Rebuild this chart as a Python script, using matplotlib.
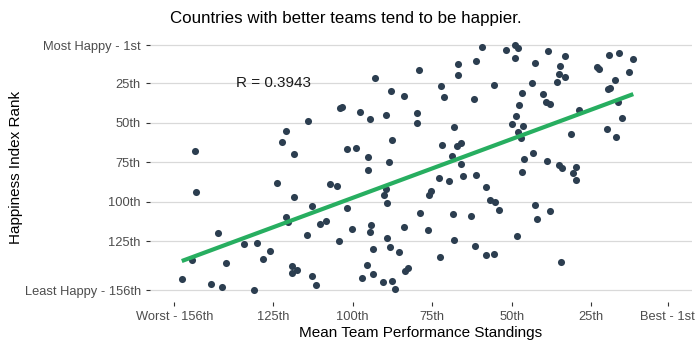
import matplotlib.pyplot as plt
import numpy as np

plt.rcParams['font.family'] = ['Liberation Sans', 'DejaVu Sans']

# mean team standing (x) and happiness rank (y)
team = [149.4, 121.1, 122.1, 118.3, 113.9, 104.1, 103.2, 93.0, 79.0, 87.9,
        83.8, 97.7, 94.7, 89.5, 79.7, 79.7, 87.6, 101.9, 99.0, 95.2,
        88.6, 59.5, 51.9, 49.0, 48.1, 49.1, 38.7, 33.4, 66.8, 61.1,
        42.8, 66.8, 34.7, 35.0, 33.2, 35.9, 72.1, 55.7, 43.7, 71.2,
        62.0, 46.9, 40.2, 39.3, 37.9, 47.8, 48.8, 50.0, 46.6, 48.1,
        47.0, 68.1, 71.8, 67.1, 66.1, 68.8, 66.0, 46.2, 43.4, 39.0,
        35.0, 19.4, 16.2, 11.8, 23.2, 22.7, 13.1, 17.5, 19.9, 19.2,
        28.9, 16.7, 15.3, 31.4, 20.0, 17.2, 29.9, 34.1, 30.9, 29.9,
        149.3, 123.7, 118.3, 121.1, 120.3, 142.3, 134.1, 130.0, 125.9, 128.1,
        150.5, 139.8, 153.7, 144.5, 141.0, 130.9, 119.0, 119.0, 117.5, 95.2,
        107.2, 104.9, 89.5, 90.2, 89.2, 76.1, 75.5, 112.9, 101.9, 78.8,
        110.4, 108.5, 100.3, 94.3, 94.6, 83.8, 76.3, 114.5, 104.4, 89.2,
        93.6, 88.3, 85.4, 95.5, 93.6, 97.1, 112.9, 111.6, 83.4, 82.6,
        90.5, 87.5, 86.7, 72.8, 69.6, 65.2, 61.1, 46.9, 58.2, 56.8,
        55.4, 54.1, 42.8, 38.0, 42.1, 68.4, 62.7, 68.0, 48.4, 61.7,
        72.5, 58.2, 55.7, 34.5]
happy = [68, 55, 62, 70, 49, 41, 40, 22, 17, 30,
         33, 43, 48, 45, 44, 50, 61, 67, 66, 72,
         75, 2, 4, 1, 3, 9, 5, 8, 13, 11,
         12, 20, 14, 19, 21, 24, 27, 26, 25, 34,
         35, 31, 32, 37, 38, 39, 46, 51, 52, 56,
         60, 53, 64, 65, 63, 71, 76, 73, 69, 74,
         77, 7, 6, 10, 15, 16, 18, 23, 29, 28,
         42, 37, 47, 57, 54, 59, 78, 79, 82, 86,
         94, 88, 97, 110, 113, 120, 127, 126, 131, 136,
         137, 139, 149, 152, 154, 156, 141, 145, 143, 80,
         89, 90, 92, 96, 101, 96, 93, 103, 104, 107,
         114, 112, 117, 115, 119, 116, 118, 121, 125, 123,
         130, 129, 132, 140, 146, 148, 147, 153, 144, 142,
         151, 150, 155, 85, 87, 84, 83, 81, 91, 99,
         100, 105, 102, 106, 111, 108, 109, 124, 122, 128,
         135, 134, 133, 138]

r_label = 'R = 0.3943'
x_ticks = [156, 125, 100, 75, 50, 25, 1]
x_labels = ['Worst - 156th', '125th', '100th', '75th', '50th', '25th', 'Best - 1st']
y_ticks = [1, 25, 50, 75, 100, 125, 156]
y_labels = ['Most Happy - 1st', '25th', '50th', '75th', '100th', '125th', 'Least Happy - 156th']

x = np.array(team)
y = np.array(happy)

fig = plt.figure(figsize=(7, 3.5), dpi=100)
ax = fig.add_axes([0.214, 0.136, 0.775, 0.77])

ax.scatter(x, y, s=26, color='#2c3e50', zorder=3, linewidths=0)

# linear fit, like geom_smooth(method = 'lm')
m, b = np.polyfit(x, y, 1)
xs = np.array([x.min(), x.max()])
ax.plot(xs, m * xs + b, color='#27ae60', lw=3, zorder=4, solid_capstyle='butt')

ax.text(125, 25, r_label, fontsize=11, ha='center', va='center', color='#1a1a1a')

ax.set_xlim(163.75, -6.75)
ax.set_ylim(163.75, -6.75)
ax.set_xticks(x_ticks)
ax.set_xticklabels(x_labels)
ax.set_yticks(y_ticks)
ax.set_yticklabels(y_labels)
ax.tick_params(labelsize=9.3, colors='#333333', labelcolor='#4d4d4d', length=3, width=0.8)

ax.grid(axis='y', color='#d9d9d9', lw=0.9)
ax.set_axisbelow(True)
for s in ax.spines.values():
    s.set_visible(False)

ax.set_xlabel('Mean Team Performance Standings', fontsize=11, labelpad=2)
ax.set_ylabel('Happiness Index Rank', fontsize=11, labelpad=1)
fig.text(0.494, 0.948, 'Countries with better teams tend to be happier.',
         fontsize=12.2, ha='center', va='center')

fig.savefig('out.png', dpi=100)
